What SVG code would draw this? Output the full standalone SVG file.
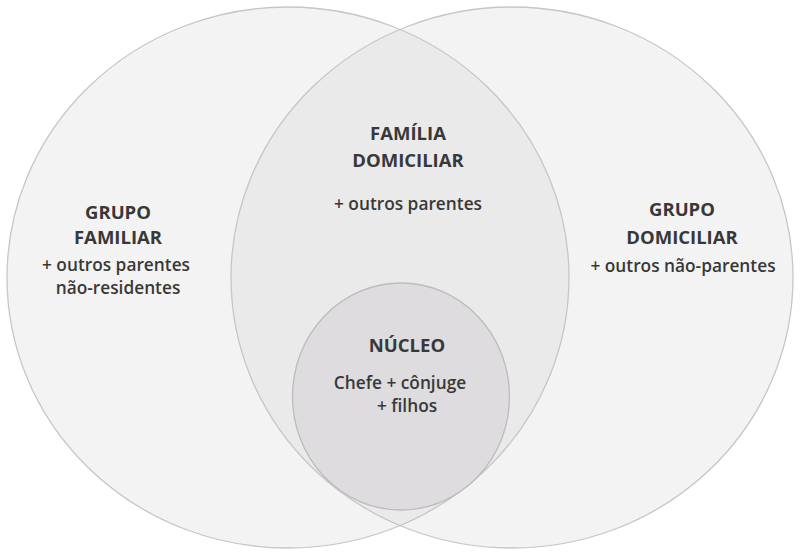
<svg xmlns="http://www.w3.org/2000/svg" width="800" height="557" viewBox="0 0 800 557">
<style>
.t{font-family:"Open Sans","Noto Sans","Liberation Sans",sans-serif;font-weight:700;font-size:18.5px;fill:#383838;text-anchor:middle}
.s{font-family:"Open Sans","Noto Sans","Liberation Sans",sans-serif;font-weight:600;font-size:17.3px;fill:#383838;text-anchor:middle}
.ring{fill:none;stroke:#c6c6c6;stroke-width:1.3}
</style>
<defs>
<clipPath id="clipR"><ellipse cx="512" cy="277.5" rx="281" ry="270.5"/></clipPath>
</defs>
<rect width="800" height="557" fill="#ffffff"/>
<g id="grupo-familiar">
<ellipse cx="288" cy="277.5" rx="281" ry="270.5" fill="#f4f3f4"/>
</g>
<g id="grupo-domiciliar">
<ellipse cx="512" cy="277.5" rx="281" ry="270.5" fill="#f4f3f4"/>
</g>
<g id="familia-domiciliar">
<ellipse cx="288" cy="277.5" rx="281" ry="270.5" fill="#ebeaeb" clip-path="url(#clipR)"/>
</g>
<g id="outlines">
<ellipse class="ring" cx="288" cy="277.5" rx="281" ry="270.5"/>
<ellipse class="ring" cx="512" cy="277.5" rx="281" ry="270.5"/>
</g>
<g id="nucleo">
<ellipse cx="401" cy="396.5" rx="108.5" ry="113.5" fill="#dedcde" stroke="#bcbcbc" stroke-width="1.3"/>
<text class="t" x="407" y="352">NÚCLEO</text>
<text class="s" x="400" y="389">Chefe + cônjuge</text>
<text class="s" x="407" y="412">+ filhos</text>
</g>
<g id="labels-left">
<text class="t" x="118" y="219">GRUPO</text>
<text class="t" x="118" y="244">FAMILIAR</text>
<text class="s" x="116" y="271">+ outros parentes</text>
<text class="s" x="118" y="294">não-residentes</text>
</g>
<g id="labels-mid">
<text class="t" x="408" y="140">FAMÍLIA</text>
<text class="t" x="408" y="167">DOMICILIAR</text>
<text class="s" x="408" y="210">+ outros parentes</text>
</g>
<g id="labels-right">
<text class="t" x="682" y="216">GRUPO</text>
<text class="t" x="682" y="244">DOMICILIAR</text>
<text class="s" x="683" y="272">+ outros não-parentes</text>
</g>
</svg>
